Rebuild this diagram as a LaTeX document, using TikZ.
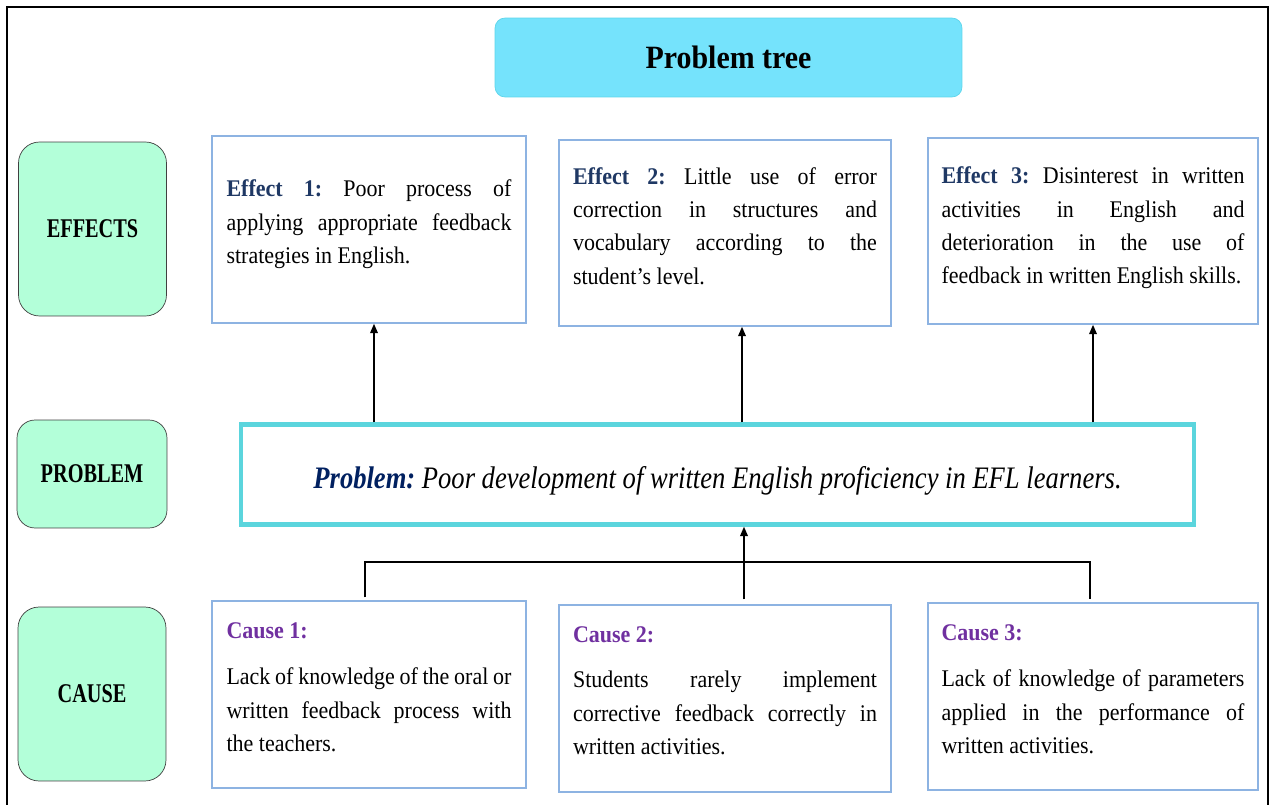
\documentclass[tikz,border=0pt]{standalone}
\usepackage{fontspec}
\setmainfont{Liberation Serif}[FakeStretch=0.92]
\newfontfamily\labelfont{Liberation Serif}[FakeStretch=0.75]
\newfontfamily\probfont{Liberation Serif}[FakeStretch=0.85]
\usepackage{xcolor}
\definecolor{mintgreen}{HTML}{B3FFD9}
\definecolor{titlecyan}{HTML}{75E3FC}
\definecolor{titleedge}{HTML}{5DD5EA}
\definecolor{boxblue}{HTML}{8DB3E2}
\definecolor{probcyan}{HTML}{5BD5DD}
\definecolor{effectblue}{HTML}{1F3864}
\definecolor{probblue}{HTML}{002060}
\definecolor{causepurple}{HTML}{7030A0}
\usepackage{tikz}
\usetikzlibrary{arrows.meta,positioning}
\frenchspacing

\begin{document}
\begin{tikzpicture}[x=0.02cm, y=-0.02cm,
  sidebox/.style={rectangle, draw=black!75, fill=mintgreen, rounded corners=0.42cm, minimum width=2.96cm, minimum height=3.48cm, font=\labelfont\fontsize{15.4}{18}\selectfont\bfseries},
  effectbox/.style={rectangle, draw=boxblue, line width=0.8pt, fill=white, minimum height=3.74cm, inner xsep=0pt, align=justify, font=\fontsize{13.6}{19}\selectfont},
  arrow/.style={-{Triangle[length=0.19cm, width=0.15cm]}, line width=1.1pt},
  joinline/.style={line width=1.1pt}
]
\useasboundingbox (0,0) rectangle (1273,804);

% Frame
\draw[line width=1.2pt] (7,820) -- (7,7) -- (1268,7) -- (1268,820);

% Title
\node[draw=titleedge, fill=titlecyan, rounded corners=0.2cm, minimum width=9.34cm, minimum height=1.58cm, font=\fontsize{18.5}{20}\selectfont\bfseries] (title) at (728.5,57.5) {Problem tree};

% Row labels
\node[sidebox] (effects) at (92.5,229) {EFFECTS};
\node[sidebox, minimum width=3.0cm, minimum height=2.16cm, rounded corners=0.36cm] (problem) at (92,474) {PROBLEM};
\node[sidebox] (cause) at (92,694) {CAUSE};

% Effects
\node[effectbox, minimum width=6.28cm, text width=5.7cm] (e1) at (369,229.5) {\textcolor{effectblue}{\textbf{Effect 1:}} Poor process of\linebreak applying appropriate feedback\linebreak strategies in English.\par\nointerlineskip\vbox to 6pt{}};
\node[effectbox, minimum width=6.64cm, text width=6.08cm, minimum height=3.72cm] (e2) at (725,233) {\textcolor{effectblue}{\textbf{Effect 2:}} Little use of error\linebreak correction in structures and\linebreak vocabulary according to the\linebreak student's level.\par\nointerlineskip\vbox to 8pt{}};
\node[effectbox, minimum width=6.6cm, text width=6.06cm, minimum height=3.72cm] (e3) at (1093,231) {\textcolor{effectblue}{\textbf{Effect 3:}} Disinterest in written\linebreak activities in English and\linebreak deterioration in the use of\linebreak feedback in written English skills.\par\nointerlineskip\vbox to 3.5pt{}};

% Problem
\node[draw=probcyan, line width=2.4pt, fill=white, minimum width=19.05cm, minimum height=2.0cm, font=\probfont\itshape\fontsize{17.8}{20}\selectfont] (prob) at (717.5,474.5) {\rule{0pt}{19.5pt}\textcolor{probblue}{\textbf{Problem:}} Poor development of written English proficiency in EFL learners.};

% Causes
\node[effectbox, minimum width=6.28cm, text width=5.7cm] (c1) at (369,694.5) {\textcolor{causepurple}{\textbf{Cause 1:}}\\[7pt] Lack of knowledge of the oral or\linebreak written feedback process with\linebreak the teachers.\par\nointerlineskip\vbox to 8pt{}};
\node[effectbox, minimum width=6.64cm, text width=6.08cm] (c2) at (725,698.5) {\textcolor{causepurple}{\textbf{Cause 2:}}\\[7pt] Students rarely implement\linebreak corrective feedback correctly in\linebreak written activities.\par\nointerlineskip\vbox to 9pt{}};
\node[effectbox, minimum width=6.6cm, text width=6.06cm] (c3) at (1093,696.5) {\textcolor{causepurple}{\textbf{Cause 3:}}\\[7pt] Lack of knowledge of parameters\linebreak applied in the performance of\linebreak written activities.\par\nointerlineskip\vbox to 8pt{}};

% Connections
\coordinate (a1) at ([xshift=0.1cm]e1.south);
\coordinate (a2) at ([xshift=0.34cm]e2.south);
\coordinate (a3) at (e3.south);
\draw[arrow] (a1 |- prob.north) -- (a1);
\draw[arrow] (a2 |- prob.north) -- (a2);
\draw[arrow] (a3 |- prob.north) -- (a3);

\coordinate (b1) at ([xshift=-0.08cm, yshift=0.06cm]c1.north);
\coordinate (b3) at ([xshift=-0.06cm, yshift=0.06cm]c3.north);
\coordinate (b2) at ([xshift=0.38cm, yshift=0.1cm]c2.north);
\draw[joinline] (b1) -- ++(0,-35) -| (b3);
\draw[arrow] (b2) -- (b2 |- prob.south);

\end{tikzpicture}
\end{document}
